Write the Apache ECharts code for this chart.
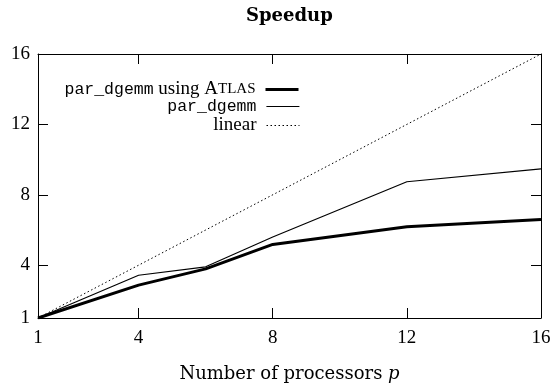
<!DOCTYPE html>
<html>
<head>
<meta charset="utf-8">
<script src="https://cdn.jsdelivr.net/npm/echarts@6/dist/echarts.min.js"></script>
<style>
html, body { margin: 0; padding: 0; background: #fff; }
#chart { width: 552px; height: 385px; }
</style>
</head>
<body>
<div id="chart"></div>
<script>
// processors p
var procs = [1, 4, 6, 8, 12, 16]
var atlasSpeedup = [1, 2.87, 3.79, 5.18, 6.18, 6.6]
var plainSpeedup = [1, 3.43, 3.91, 5.6, 8.74, 9.47]
var linearProcs = [1, 16]
var linearSpeedup = [1, 16]
var tickValues = [1, 4, 8, 12, 16]

var serif = 'Liberation Serif'
var wideSerif = 'DejaVu Serif'
var mono = 'Liberation Mono'

function pairs(xs, ys) {
	return xs.map(function (x, i) { return [x, ys[i]] })
}

var chart = echarts.init(document.getElementById('chart'))

var legendRich = {
	tt: { fontFamily: mono, fontSize: 16.5, color: '#000' },
	rm: { fontFamily: serif, fontSize: 19, color: '#000' },
	sc: { fontFamily: serif, fontSize: 15, color: '#000' }
}
var labels = {
	'par_dgemm using ATLAS': '{tt|par_dgemm}{rm| using A}{sc|TLAS}',
	'par_dgemm': '{tt|par_dgemm}',
	'linear': '{rm|linear}'
}

function legendFor(name, top, lineWidth) {
	return {
		data: [name],
		right: 252,
		top: top,
		padding: 0,
		align: 'right',
		icon: 'inherit',
		itemWidth: 33,
		itemHeight: 10,
		itemStyle: { opacity: 0 },
		lineStyle: { width: lineWidth },
		selectedMode: false,
		formatter: function (n) { return labels[n] },
		textStyle: { rich: legendRich, padding: [0, 5, 0, 0] }
	}
}

var option = {
	animation: false,
	backgroundColor: '#fff',
	title: {
		text: 'Speedup',
		left: 241,
		top: 2,
		textStyle: { fontFamily: wideSerif, fontWeight: 'bold', fontSize: 18, color: '#000' }
	},
	legend: [
		legendFor('par_dgemm using ATLAS', 80, 3),
		legendFor('par_dgemm', 98, 1.2),
		legendFor('linear', 116, 1)
	],
	grid: { left: 38, right: 11, top: 54, bottom: 67, outerBoundsMode: 'none' },
	xAxis: [{
		type: 'value',
		min: 1,
		max: 16,
		name: 'Number of processors {it|p}',
		nameLocation: 'middle',
		nameGap: 47,
		nameTextStyle: {
			fontFamily: wideSerif, fontSize: 18, color: '#000',
			rich: { it: { fontFamily: wideSerif, fontStyle: 'italic', fontSize: 18, color: '#000' } }
		},
		axisLine: { lineStyle: { color: '#000', width: 1 } },
		axisTick: { inside: true, length: 10, lineStyle: { color: '#000' }, customValues: tickValues },
		axisLabel: { customValues: tickValues, fontFamily: serif, fontSize: 19, color: '#000', margin: 11 },
		splitLine: { show: false }
	}, {
		type: 'value',
		position: 'top',
		min: 1,
		max: 16,
		axisLine: { show: true, lineStyle: { color: '#000', width: 1 } },
		axisTick: { inside: true, length: 10, lineStyle: { color: '#000' }, customValues: tickValues },
		axisLabel: { show: false },
		splitLine: { show: false }
	}],
	yAxis: [{
		type: 'value',
		min: 1,
		max: 16,
		axisLine: { show: true, lineStyle: { color: '#000', width: 1 } },
		axisTick: { show: true, inside: true, length: 10, lineStyle: { color: '#000' }, customValues: tickValues },
		axisLabel: { customValues: tickValues, fontFamily: serif, fontSize: 19, color: '#000', margin: 8 },
		splitLine: { show: false }
	}, {
		type: 'value',
		position: 'right',
		min: 1,
		max: 16,
		axisLine: { show: true, lineStyle: { color: '#000', width: 1 } },
		axisTick: { show: true, inside: true, length: 10, lineStyle: { color: '#000' }, customValues: tickValues },
		axisLabel: { show: false },
		splitLine: { show: false }
	}],
	series: [{
		name: 'par_dgemm using ATLAS',
		type: 'line',
		symbol: 'none',
		data: pairs(procs, atlasSpeedup),
		lineStyle: { color: '#000', width: 3 },
		itemStyle: { color: '#000' }
	}, {
		name: 'par_dgemm',
		type: 'line',
		symbol: 'none',
		data: pairs(procs, plainSpeedup),
		lineStyle: { color: '#000', width: 1.2 },
		itemStyle: { color: '#000' }
	}, {
		name: 'linear',
		type: 'line',
		symbol: 'none',
		data: pairs(linearProcs, linearSpeedup),
		lineStyle: { color: '#000', width: 1, type: [1.5, 2.5] },
		itemStyle: { color: '#000' }
	}]
}

chart.setOption(option)
</script>
</body>
</html>
